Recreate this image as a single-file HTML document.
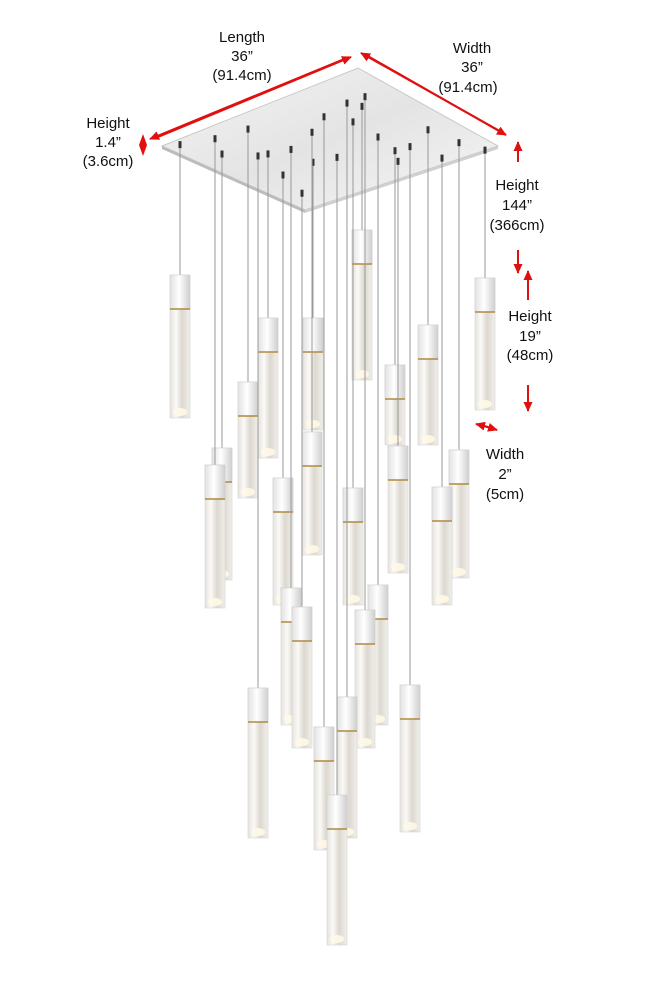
<!DOCTYPE html>
<html><head><meta charset="utf-8"><style>
html,body{margin:0;padding:0;background:#fff;width:646px;height:1000px;overflow:hidden}
text{font-family:"Liberation Sans",sans-serif;font-size:15px;fill:#111;text-anchor:middle}
</style></head><body>
<svg id="s" width="646" height="1000" viewBox="0 0 646 1000" xmlns="http://www.w3.org/2000/svg">
<defs>
<linearGradient id="cap" x1="0" x2="1"><stop offset="0" stop-color="#e2e2e2"/><stop offset=".45" stop-color="#ffffff"/><stop offset="1" stop-color="#cfcfcf"/></linearGradient>
<linearGradient id="gl" x1="0" x2="1"><stop offset="0" stop-color="#e6e3de"/><stop offset=".3" stop-color="#fbfaf7"/><stop offset=".6" stop-color="#dcd8d0"/><stop offset="1" stop-color="#f1efeb"/></linearGradient>
<linearGradient id="can" x1="0" y1="0" x2="1" y2="1"><stop offset="0" stop-color="#f4f4f4"/><stop offset=".5" stop-color="#e4e4e4"/><stop offset="1" stop-color="#f6f6f6"/></linearGradient>
<marker id="ar" markerWidth="10" markerHeight="9" refX="9" refY="4.5" orient="auto" markerUnits="userSpaceOnUse"><path d="M0,0 L10,4.5 L0,9 Z" fill="#e01010"/></marker>
</defs>
<polygon points="162,146 358,68 498,146 305,210" fill="url(#can)" stroke="#c8c8c8" stroke-width="1"/>
<polygon points="162,146 305,210 305,213 162,149" fill="#bcbcbc"/>
<polygon points="305,210 498,146 498,149 305,213" fill="#d0d0d0"/>
<g id="p"></g>
<g stroke="#e01010" stroke-width="2" fill="none">
<line x1="158" y1="137" x2="351" y2="57" marker-end="url(#ar)"/>
<line x1="349" y1="57" x2="150" y2="139" marker-end="url(#ar)"/>
<line x1="366" y1="55" x2="506" y2="135" marker-end="url(#ar)"/>
<line x1="505" y1="134" x2="361" y2="53" marker-end="url(#ar)"/>
<line x1="518" y1="162" x2="518" y2="142" marker-end="url(#ar)"/>
<line x1="518" y1="250" x2="518" y2="273" marker-end="url(#ar)"/>
<line x1="528" y1="300" x2="528" y2="271" marker-end="url(#ar)"/>
<line x1="528" y1="385" x2="528" y2="411" marker-end="url(#ar)"/>
<line x1="488" y1="427" x2="476" y2="424" marker-end="url(#ar)"/>
<line x1="484" y1="426" x2="497" y2="430" marker-end="url(#ar)"/>
</g>
<polygon points="143,134 147,145 143,156 139,145" fill="#e01010"/>
<text x="242" y="42">Length</text><text x="242" y="61">36”</text><text x="242" y="80">(91.4cm)</text>
<text x="472" y="53">Width</text><text x="472" y="72">36”</text><text x="468" y="92">(91.4cm)</text>
<text x="108" y="128">Height</text><text x="108" y="147">1.4”</text><text x="108" y="166">(3.6cm)</text>
<text x="517" y="190">Height</text><text x="517" y="210">144”</text><text x="517" y="230">(366cm)</text>
<text x="530" y="321">Height</text><text x="530" y="341">19”</text><text x="530" y="360">(48cm)</text>
<text x="505" y="459">Width</text><text x="505" y="479">2”</text><text x="505" y="499">(5cm)</text>
</svg>
<script>
var P=[[180,275,418],[268,318,458],[248,382,498],[222,448,580],[215,465,608],[313,318,430],[362,230,380],[395,365,445],[428,325,445],[485,278,410],[312,432,555],[283,478,605],[353,488,605],[398,446,573],[459,450,578],[442,487,605],[291,588,725],[302,607,748],[378,585,725],[365,610,748],[258,688,838],[347,697,838],[410,685,832],[324,727,850],[337,795,945]];
function et(x){return x<358?146-(x-162)*78/196:68+(x-358)*78/140;}
function eb(x){return x<305?146+(x-162)*64/143:210-(x-305)*64/193;}
var g=document.getElementById('p'),h='';
P.forEach(function(a,i){var x=a[0],t=a[1],b=a[2];var f=0.15+((i*37)%70)/100;var top=et(x)+f*(eb(x)-et(x));
h+='<line x1="'+x+'" y1="'+top+'" x2="'+x+'" y2="'+t+'" stroke="#999" stroke-width="1"/>';
h+='<rect x="'+(x-1.5)+'" y="'+top+'" width="3" height="7" fill="#333"/>';
h+='<rect x="'+(x-10)+'" y="'+t+'" width="20" height="'+(b-t)+'" fill="url(#gl)" stroke="#d4d4d4" stroke-width="0.6"/>';
h+='<rect x="'+(x-10)+'" y="'+t+'" width="20" height="34" fill="url(#cap)" stroke="#cfcfcf" stroke-width="0.6"/>';
h+='<line x1="'+(x-10)+'" y1="'+(t+34)+'" x2="'+(x+10)+'" y2="'+(t+34)+'" stroke="#b08a40" stroke-width="1.5"/>';
h+='<ellipse cx="'+x+'" cy="'+(b-6)+'" rx="7" ry="4" fill="#fff8e6" opacity=".9"/>';});
g.innerHTML=h;
</script>
</body></html>
